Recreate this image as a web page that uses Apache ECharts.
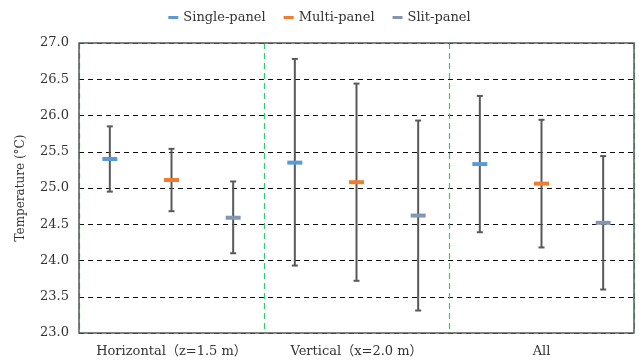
<!DOCTYPE html>
<html>
<head>
<meta charset="utf-8">
<script src="https://cdn.jsdelivr.net/npm/echarts@6/dist/echarts.min.js"></script>
<style>
  html, body { margin: 0; padding: 0; background: #fff; }
  #chart { width: 639px; height: 364px; }
</style>
</head>
<body>
<div id="chart"></div>
<script>
  var categories = ['Horizontal（z=1.5 m）', 'Vertical（x=2.0 m）', 'All']
  var seriesNames = ['Single-panel', 'Multi-panel', 'Slit-panel']
  var seriesColors = ['#5b9bd5', '#ed7d31', '#8497b0']
  // mean / min / max per category
  var singleMean = [25.40, 25.35, 25.33]
  var singleLow = [24.95, 23.93, 24.39]
  var singleHigh = [25.85, 26.78, 26.27]
  var multiMean = [25.11, 25.08, 25.06]
  var multiLow = [24.68, 23.72, 24.18]
  var multiHigh = [25.54, 26.44, 25.94]
  var slitMean = [24.59, 24.62, 24.52]
  var slitLow = [24.10, 23.31, 23.60]
  var slitHigh = [25.09, 25.93, 25.44]
  var yTicks = ['23.0', '23.5', '24.0', '24.5', '25.0', '25.5', '26.0', '26.5', '27.0']

  var means = [singleMean, multiMean, slitMean]
  var lows = [singleLow, multiLow, slitLow]
  var highs = [singleHigh, multiHigh, slitHigh]
  var font = '"DejaVu Serif", "Noto Sans CJK JP", serif'

  function renderItem(params, api) {
    var band = api.size([1, 0])[0]
    var off = (params.seriesIndex - 1) * band / 3
    var pLow = api.coord([api.value(0), api.value(1)])
    var pHigh = api.coord([api.value(0), api.value(2)])
    var pMean = api.coord([api.value(0), api.value(3)])
    var x = pLow[0] + off
    var barStyle = { stroke: '#595959', lineWidth: 2 }
    return {
      type: 'group',
      children: [
        { type: 'line', shape: { x1: x, y1: pLow[1], x2: x, y2: pHigh[1] }, style: barStyle },
        { type: 'line', shape: { x1: x - 3, y1: pLow[1], x2: x + 3, y2: pLow[1] }, style: barStyle },
        { type: 'line', shape: { x1: x - 3, y1: pHigh[1], x2: x + 3, y2: pHigh[1] }, style: barStyle },
        { type: 'rect', shape: { x: x - 7.5, y: pMean[1] - 2, width: 15, height: 4 },
          style: { fill: seriesColors[params.seriesIndex] } }
      ]
    }
  }

  var series = seriesNames.map(function (name, s) {
    return {
      name: name,
      type: 'custom',
      renderItem: renderItem,
      itemStyle: { color: seriesColors[s] },
      encode: { x: 0, y: [1, 2, 3] },
      data: categories.map(function (c, i) {
        return [i, lows[s][i], highs[s][i], means[s][i]]
      }),
      z: 3
    }
  })

  var chart = echarts.init(document.getElementById('chart'))
  chart.setOption({
    animation: false,
    legend: {
      top: 6,
      left: 'center',
      icon: 'rect',
      itemWidth: 10,
      itemHeight: 3,
      itemGap: 18,
      textStyle: { fontFamily: font, fontSize: 13, color: '#333' },
      data: seriesNames
    },
    grid: {
      left: 79,
      right: 5,
      top: 43,
      bottom: 31,
      show: true,
      z: 10,
      borderColor: '#595959',
      borderWidth: 1.5,
      backgroundColor: 'transparent'
    },
    xAxis: {
      type: 'category',
      data: categories,
      z: 0,
      axisLine: { show: false },
      axisTick: { show: false },
      axisLabel: { interval: 0, fontFamily: font, fontSize: 13, color: '#333', margin: 12 },
      splitLine: {
        show: true,
        interval: 0,
        lineStyle: { color: '#2ecc71', type: [6, 4], width: 1.2 }
      }
    },
    yAxis: {
      type: 'value',
      min: 23,
      max: 27,
      interval: 0.5,
      z: 0,
      name: 'Temperature (°C)',
      nameLocation: 'middle',
      nameGap: 52,
      nameTextStyle: { fontFamily: font, fontSize: 12, color: '#333' },
      axisLine: { show: false },
      axisTick: { show: false },
      axisLabel: {
        fontFamily: font, fontSize: 13, color: '#333', margin: 10,
        formatter: function (v) { return yTicks[Math.round((v - 23) * 2)] }
      },
      splitLine: { show: true, lineStyle: { color: '#111', type: [5, 4], width: 1.2 } }
    },
    series: series
  })
</script>
</body>
</html>
